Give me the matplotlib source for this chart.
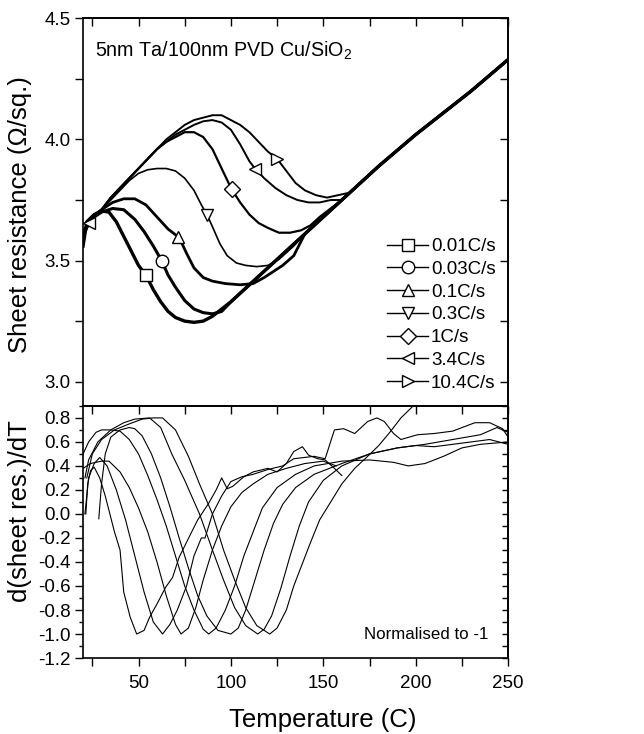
import numpy as np
import matplotlib
matplotlib.use("Agg")
import matplotlib.pyplot as plt
from matplotlib.lines import Line2D
from matplotlib.ticker import MultipleLocator, FormatStrFormatter

plt.rcParams["font.family"] = ["Liberation Sans", "DejaVu Sans"]
plt.rcParams["mathtext.default"] = "regular"
plt.rcParams["axes.unicode_minus"] = False

# ---- sheet resistance vs temperature ----
rates = ["0.01C/s", "0.03C/s", "0.1C/s", "0.3C/s", "1C/s", "3.4C/s", "10.4C/s"]
markers = ["s", "o", "^", "v", "D", "<", ">"]
marker_T = [[54], [62.5], [71.5], [87], [100.5], [23, 113], [125]]

line_T = [100, 110, 120, 130, 140, 150, 160, 170, 180, 190, 200, 210, 220, 230, 240, 250]
line_R = [3.33, 3.40, 3.47, 3.54, 3.61, 3.68, 3.75, 3.82, 3.89, 3.955, 4.02, 4.08, 4.14, 4.20, 4.265, 4.33]

rs_T = [
    [20, 22, 26, 30, 34, 38, 42, 46, 50, 54, 58, 62, 66, 70, 75, 80, 85, 90, 95],
    [20, 24, 30, 36, 42, 48, 53, 58, 62.5, 66, 70, 75, 80, 85, 90, 95],
    [20, 25, 30, 36, 42, 48, 54, 60, 66, 72, 76, 80, 85, 90, 97, 105, 112, 118, 124, 128, 134],
    [20, 25, 30, 35, 40, 45, 50, 55, 60, 65, 70, 75, 80, 84, 87, 90, 94, 98, 103, 108, 114, 120, 126, 134],
    [20, 25, 30, 35, 40, 45, 50, 55, 60, 65, 70, 75, 80, 85, 90, 95, 100, 105, 110, 115, 120, 126, 132, 138, 143, 148],
    [20, 25, 30, 35, 40, 45, 50, 55, 60, 65, 70, 75, 80, 85, 90, 95, 100, 105, 110, 113, 118, 124, 130, 136, 142, 148, 154],
    [20, 25, 30, 35, 40, 45, 50, 55, 60, 65, 70, 75, 80, 85, 90, 95, 100, 105, 110, 115, 120, 125, 130, 135, 140, 146, 152, 158, 164],
]
rs_R = [
    [3.56, 3.66, 3.69, 3.705, 3.70, 3.66, 3.60, 3.54, 3.48, 3.44, 3.38, 3.33, 3.29, 3.265, 3.25, 3.245, 3.25, 3.27, 3.30],
    [3.60, 3.67, 3.70, 3.715, 3.71, 3.67, 3.62, 3.56, 3.50, 3.44, 3.39, 3.335, 3.30, 3.285, 3.28, 3.29],
    [3.61, 3.68, 3.71, 3.74, 3.755, 3.755, 3.73, 3.68, 3.63, 3.595, 3.53, 3.47, 3.43, 3.415, 3.405, 3.40, 3.405, 3.43, 3.46, 3.48, 3.52],
    [3.62, 3.68, 3.71, 3.75, 3.79, 3.83, 3.86, 3.875, 3.88, 3.88, 3.87, 3.84, 3.79, 3.73, 3.69, 3.64, 3.57, 3.52, 3.49, 3.48, 3.475, 3.48, 3.505, 3.56],
    [3.62, 3.68, 3.71, 3.76, 3.80, 3.84, 3.88, 3.92, 3.96, 3.99, 4.01, 4.03, 4.03, 4.01, 3.96, 3.88, 3.80, 3.74, 3.69, 3.655, 3.635, 3.615, 3.615, 3.625, 3.645, 3.68],
    [3.62, 3.68, 3.71, 3.76, 3.80, 3.84, 3.88, 3.92, 3.96, 3.99, 4.02, 4.04, 4.06, 4.075, 4.08, 4.07, 4.04, 3.98, 3.91, 3.88, 3.84, 3.80, 3.77, 3.75, 3.74, 3.74, 3.75],
    [3.62, 3.68, 3.71, 3.76, 3.80, 3.84, 3.88, 3.92, 3.96, 4.00, 4.03, 4.06, 4.08, 4.09, 4.10, 4.10, 4.08, 4.06, 4.03, 3.99, 3.95, 3.92, 3.87, 3.82, 3.79, 3.77, 3.76, 3.77, 3.78],
]
rs_lw = [2.4, 2.2, 2.0, 1.2, 1.6, 1.4, 1.4]

# ---- normalised derivative curves ----
d_T = [
    [21.5, 22.5, 24, 26, 29, 32, 34, 37, 40, 42, 45.5, 49, 53, 56, 60, 64.7, 68.4, 72, 76.5, 82, 88, 92, 95, 98, 101, 107, 112, 120, 125, 130, 134, 138.7, 142, 147, 151, 156, 160],
    [21, 23, 26, 29, 33, 38, 43, 48, 53, 58, 63, 67, 71, 76, 80, 84, 86, 90, 95, 100, 106, 112, 120, 128, 134, 145, 151, 156, 161, 167, 174, 179, 183, 188, 192, 201, 210, 220, 232, 240, 247, 250],
    [20, 24, 30, 34, 40, 45, 50, 55, 60, 65, 70, 73, 77, 81, 85, 90, 95, 100, 106, 112, 120, 130, 140, 150, 157],
    [20, 23, 27, 30, 35, 40, 45, 50, 55, 60, 65, 70, 75, 80, 85, 88, 92, 97, 102, 107, 112, 117, 125, 135, 145, 160, 175, 188, 196, 205, 215, 225, 235, 250],
    [28.5, 30, 32, 35, 40, 45, 48, 52, 57, 62, 67, 72, 77, 82, 87, 93, 100, 104, 108, 113, 118, 123, 128, 135, 145, 160, 175, 190, 200, 210, 220, 230, 240, 250],
    [21, 23, 28, 35, 42, 48, 56, 62, 68, 75, 83, 90, 96, 102, 108, 114.5, 118, 122, 127, 132, 137, 142, 150, 160, 175, 190, 205, 220, 235, 244, 250],
    [22, 25, 30, 37, 45, 52, 58, 63, 70, 77, 83, 90, 96, 102, 108, 114, 121, 125, 130, 134, 139, 143, 148, 154, 160, 167, 174, 180, 186, 192, 200, 206],
]
d_V = [
    [0.0, 0.25, 0.36, 0.39, 0.30, 0.15, 0.03, -0.15, -0.30, -0.65, -0.86, -1.0, -0.97, -0.86, -0.75, -0.61, -0.53, -0.36, -0.22, -0.05, 0.09, 0.20, 0.30, 0.21, 0.23, 0.31, 0.35, 0.38, 0.35, 0.42, 0.52, 0.56, 0.49, 0.46, 0.45, 0.38, 0.32],
    [0.0, 0.30, 0.42, 0.47, 0.40, 0.20, -0.05, -0.35, -0.65, -0.90, -1.0, -0.92, -0.80, -0.60, -0.35, -0.20, -0.20, 0.0, 0.15, 0.27, 0.31, 0.33, 0.37, 0.40, 0.46, 0.48, 0.46, 0.70, 0.71, 0.67, 0.77, 0.80, 0.77, 0.67, 0.62, 0.66, 0.67, 0.69, 0.76, 0.76, 0.71, 0.64],
    [0.38, 0.42, 0.44, 0.44, 0.35, 0.22, 0.05, -0.15, -0.40, -0.68, -0.92, -1.0, -0.95, -0.78, -0.55, -0.30, -0.10, 0.06, 0.18, 0.25, 0.33, 0.38, 0.42, 0.44, 0.40],
    [0.50, 0.60, 0.68, 0.70, 0.70, 0.69, 0.62, 0.50, 0.32, 0.12, -0.10, -0.35, -0.60, -0.80, -0.96, -1.0, -0.95, -0.80, -0.60, -0.35, -0.15, 0.05, 0.22, 0.33, 0.40, 0.44, 0.45, 0.43, 0.40, 0.42, 0.48, 0.55, 0.58, 0.60],
    [-0.04, 0.25, 0.50, 0.64, 0.70, 0.72, 0.71, 0.65, 0.50, 0.30, 0.06, -0.20, -0.45, -0.68, -0.85, -0.97, -1.0, -0.95, -0.80, -0.55, -0.30, -0.08, 0.08, 0.22, 0.33, 0.42, 0.50, 0.55, 0.57, 0.56, 0.58, 0.60, 0.62, 0.58],
    [0.30, 0.45, 0.60, 0.70, 0.76, 0.79, 0.80, 0.72, 0.50, 0.28, 0.0, -0.30, -0.55, -0.78, -0.93, -1.0, -0.96, -0.85, -0.62, -0.35, -0.10, 0.10, 0.28, 0.40, 0.50, 0.55, 0.58, 0.62, 0.66, 0.72, 0.68],
    [0.30, 0.50, 0.62, 0.70, 0.75, 0.79, 0.80, 0.80, 0.70, 0.48, 0.25, 0.0, -0.30, -0.55, -0.78, -0.93, -1.0, -0.95, -0.80, -0.60, -0.40, -0.24, -0.05, 0.10, 0.25, 0.38, 0.48, 0.57, 0.68, 0.80, 0.92, 1.0],
]


def main():
    fig = plt.figure(figsize=(6.44, 7.34), dpi=100)
    ax1 = fig.add_axes([0.129, 0.447, 0.660, 0.528])
    ax2 = fig.add_axes([0.129, 0.1035, 0.660, 0.3435], sharex=ax1)

    # top panel
    for i in range(len(rates)):
        T = np.array(rs_T[i] + [t for t in line_T if t > rs_T[i][-1] + 4])
        R = np.array(rs_R[i] + [r for t, r in zip(line_T, line_R) if t > rs_T[i][-1] + 4])
        ax1.plot(T, R, color="k", lw=rs_lw[i], solid_joinstyle="round")
        mT = np.array(marker_T[i])
        ax1.plot(mT, np.interp(mT, T, R), ls="none", marker=markers[i],
                 ms=9 if markers[i] != "D" else 8, mfc="white", mec="k", mew=1.0, zorder=5)

    handles = [Line2D([], [], color="k", lw=1.0, marker=m, ms=9 if m != "D" else 8,
                      mfc="white", mec="k", mew=1.0) for m in markers]
    ax1.legend(handles, rates, loc="center left", bbox_to_anchor=(0.715, 0.235),
               frameon=False, fontsize=13.5, handlelength=2.2, handletextpad=0.15,
               labelspacing=0.3, borderpad=0, borderaxespad=0)

    ax1.text(0.028, 0.915, "5nm Ta/100nm PVD Cu/SiO$_2$", transform=ax1.transAxes,
             fontsize=14.2, ha="left", va="center")
    ax1.set_ylim(2.9, 4.5)
    ax1.set_xlim(20, 250)
    ax1.yaxis.set_major_locator(MultipleLocator(0.5))
    ax1.yaxis.set_minor_locator(MultipleLocator(0.25))
    ax1.yaxis.set_major_formatter(FormatStrFormatter("%.1f"))
    ax1.set_ylabel("Sheet resistance (\u03a9/sq.)", fontsize=18.5)
    ax1.yaxis.set_label_coords(-0.12, 0.493)
    ax1.tick_params(axis="y", which="both", direction="out", length=5.5, width=1,
                    labelsize=13.5)
    ax1.tick_params(axis="x", which="both", bottom=False, labelbottom=False)
    sx1 = ax1.secondary_xaxis("top")
    sx1.xaxis.set_major_locator(MultipleLocator(25))
    sx1.tick_params(direction="in", length=5.5, width=1, labeltop=False)
    sy1 = ax1.secondary_yaxis("right")
    sy1.yaxis.set_major_locator(MultipleLocator(0.25))
    sy1.tick_params(direction="in", length=5.5, width=1, labelright=False)

    # bottom panel
    for i in range(len(rates)):
        ax2.plot(d_T[i], d_V[i], color="k", lw=0.8)
    ax2.text(0.953, 0.095, "Normalised to -1", transform=ax2.transAxes,
             fontsize=12.2, ha="right", va="center")
    ax2.set_ylim(-1.2, 0.9)
    ax2.xaxis.set_major_locator(MultipleLocator(50))
    ax2.xaxis.set_minor_locator(MultipleLocator(25))
    ax2.yaxis.set_major_locator(MultipleLocator(0.2))
    ax2.yaxis.set_minor_locator(MultipleLocator(0.1))
    ax2.yaxis.set_major_formatter(FormatStrFormatter("%.1f"))
    ax2.tick_params(axis="both", which="major", direction="out", length=5.5, width=1,
                    labelsize=13.5)
    ax2.tick_params(axis="x", which="major", pad=7)
    ax2.tick_params(axis="both", which="minor", direction="out", length=3, width=1)
    ax2.tick_params(axis="x", which="minor", length=5.5)
    ax2.set_xlabel("Temperature (C)", fontsize=18.5)
    ax2.xaxis.set_label_coords(0.565, -0.2)
    ax2.set_ylabel("d(sheet res.)/dT", fontsize=18.5)
    ax2.yaxis.set_label_coords(-0.12, 0.583)
    sx2 = ax2.secondary_xaxis("top")
    sx2.xaxis.set_major_locator(MultipleLocator(25))
    sx2.tick_params(direction="in", length=5.5, width=1, labeltop=False)
    sy2 = ax2.secondary_yaxis("right")
    sy2.yaxis.set_major_locator(MultipleLocator(0.1))
    sy2.tick_params(direction="in", length=4, width=1, labelright=False)

    for ax in (ax1, ax2, sx1, sy1, sx2, sy2):
        for sp in ax.spines.values():
            sp.set_linewidth(1.2)

    fig.savefig("out.png", dpi=100)


if __name__ == "__main__":
    main()
